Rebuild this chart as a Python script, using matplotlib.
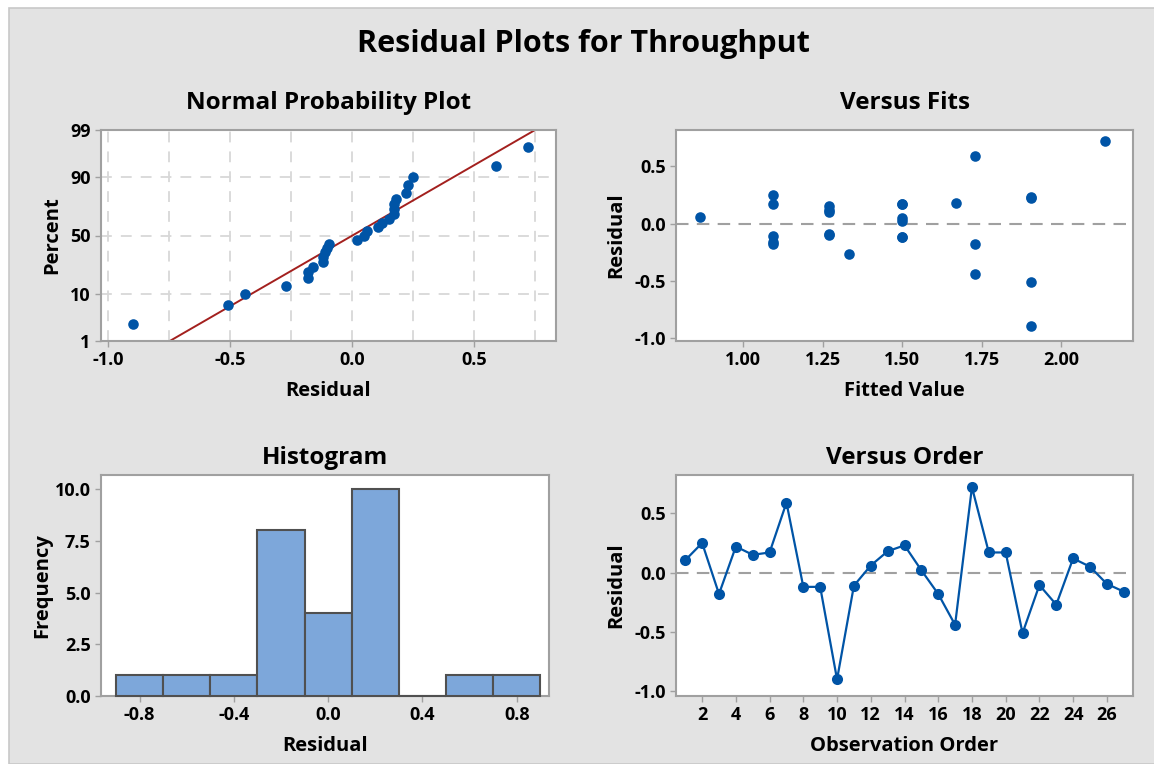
from statistics import NormalDist
import numpy as np

import matplotlib
matplotlib.use("Agg")
import matplotlib.pyplot as plt
from matplotlib.patches import Rectangle

plt.rcParams["font.family"] = ["Open Sans", "DejaVu Sans"]
plt.rcParams["font.weight"] = "bold"

observation = np.arange(1, 28)
residual = [0.105, 0.25, -0.18, 0.22, 0.15, 0.17, 0.59, -0.12, -0.12, -0.90,
            -0.11, 0.06, 0.18, 0.23, 0.02, -0.18, -0.44, 0.72, 0.17, 0.17,
            -0.51, -0.105, -0.27, 0.12, 0.05, -0.095, -0.16]
fitted = [1.27, 1.094, 1.094, 1.906, 1.27, 1.094, 1.731, 1.50, 1.50, 1.906,
          1.094, 0.864, 1.669, 1.906, 1.50, 1.731, 1.731, 2.138, 1.50, 1.50,
          1.906, 1.27, 1.332, 1.27, 1.50, 1.27, 1.094]
hist_edges = [-0.9, -0.7, -0.5, -0.3, -0.1, 0.1, 0.3, 0.5, 0.7, 0.9]
pct_ticks = [1, 10, 50, 90, 99]

BLUE = "#0054A6"
RED = "#A3201E"
FRAME = "#A0A0A0"
W, H = 1154, 764

fig = plt.figure(figsize=(W / 100, H / 100), dpi=100)
fig.patch.set_facecolor("white")
fig.patches.append(Rectangle((9 / W, 0), 1, 1 - 8 / H, transform=fig.transFigure,
                             facecolor="#E3E3E3", edgecolor="#C8C8C8", lw=1.2, zorder=-5))


def px_axes(l, t, r, b):
    ax = fig.add_axes([l / W, 1 - b / H, (r - l) / W, (b - t) / H])
    ax.set_facecolor("white")
    for sp in ax.spines.values():
        sp.set_color(FRAME)
        sp.set_linewidth(1.5)
    ax.tick_params(colors=FRAME, labelcolor="black", labelsize=13, length=4, width=1)
    return ax


def style(ax, title, xlabel, ylabel, pad, ylab_x):
    ax.set_title(title, fontsize=17.5, fontweight="bold", pad=pad)
    ax.set_xlabel(xlabel, fontsize=14.5, fontweight="bold", labelpad=8)
    ax.set_ylabel(ylabel, fontsize=14.5, fontweight="bold")
    ax.yaxis.set_label_coords(ylab_x, 0.5)


fig.text(583 / W, 1 - 52 / H, "Residual Plots for Throughput", ha="center",
         va="baseline", fontsize=22, fontweight="bold")

# Normal probability plot
res = np.array(residual)
n = len(res)
nd = NormalDist()
srt = np.sort(res)
z = [nd.inv_cdf((i - 0.3) / (n + 0.4)) for i in range(1, n + 1)]
mu, sd = res.mean(), res.std(ddof=1)
zlim = nd.inv_cdf(0.99)

ax1 = px_axes(101, 130, 556, 341)
for xv in np.arange(-1.0, 0.8, 0.25):
    ax1.axvline(xv, color="#D8D8D8", lw=1.3, ls=(0, (6, 5)), zorder=0)
for p in [10, 50, 90]:
    ax1.axhline(nd.inv_cdf(p / 100), color="#D8D8D8", lw=1.3, ls=(0, (6, 5)), zorder=0)
ax1.plot([mu - sd * zlim, mu + sd * zlim], [-zlim, zlim], color=RED, lw=1.4, zorder=2)
ax1.scatter(srt, z, s=58, color=BLUE, lw=0, zorder=3)
ax1.set_xlim(-1.03, 0.835)
ax1.set_ylim(-zlim, zlim)
ax1.set_xticks([-1.0, -0.5, 0.0, 0.5])
ax1.set_xticklabels(["-1.0", "-0.5", "0.0", "0.5"], fontweight="bold")
ax1.set_yticks([nd.inv_cdf(p / 100) for p in pct_ticks])
ax1.set_yticklabels([str(p) for p in pct_ticks], fontweight="bold")
style(ax1, "Normal Probability Plot", "Residual", "Percent", 15, -0.086)

# Versus fits
ax2 = px_axes(676, 130, 1133, 341)
ax2.axhline(0, color="#A0A0A0", lw=1.5, ls=(0, (6, 4)), zorder=1)
ax2.scatter(fitted, residual, s=58, color=BLUE, lw=0, zorder=3)
ax2.set_xlim(0.788, 2.227)
ax2.set_ylim(-1.03, 0.82)
ax2.set_xticks([1.0, 1.25, 1.5, 1.75, 2.0])
ax2.set_xticklabels(["1.00", "1.25", "1.50", "1.75", "2.00"], fontweight="bold")
ax2.set_yticks([-1.0, -0.5, 0.0, 0.5])
ax2.set_yticklabels(["-1.0", "-0.5", "0.0", "0.5"], fontweight="bold")
style(ax2, "Versus Fits", "Fitted Value", "Residual", 15, -0.109)

# Histogram
ax3 = px_axes(101, 475, 549, 696)
_, _, bars = ax3.hist(residual, bins=hist_edges, color="#7DA7DA", edgecolor="#505050",
                      lw=1.5, zorder=3)
for b in bars:
    b.set_clip_on(False)
ax3.set_xlim(-0.964, 0.937)
ax3.set_ylim(0, 10.68)
ax3.set_xticks([-0.8, -0.4, 0.0, 0.4, 0.8])
ax3.set_xticklabels(["-0.8", "-0.4", "0.0", "0.4", "0.8"], fontweight="bold")
ax3.set_yticks([0, 2.5, 5.0, 7.5, 10.0])
ax3.set_yticklabels(["0.0", "2.5", "5.0", "7.5", "10.0"], fontweight="bold")
style(ax3, "Histogram", "Residual", "Frequency", 8, -0.109)

# Versus order
ax4 = px_axes(676, 475, 1133, 696)
ax4.axhline(0, color="#A0A0A0", lw=1.5, ls=(0, (6, 4)), zorder=1)
ax4.plot(observation, residual, color=BLUE, lw=1.6, marker="o", ms=8, mew=0, zorder=3)
ax4.set_xlim(0.45, 27.55)
ax4.set_ylim(-1.04, 0.823)
ax4.set_xticks(range(2, 27, 2))
ax4.set_xticklabels([str(t) for t in range(2, 27, 2)], fontweight="bold")
ax4.set_yticks([-1.0, -0.5, 0.0, 0.5])
ax4.set_yticklabels(["-1.0", "-0.5", "0.0", "0.5"], fontweight="bold")
style(ax4, "Versus Order", "Observation Order", "Residual", 8, -0.109)

fig.savefig("out.png", dpi=100)
